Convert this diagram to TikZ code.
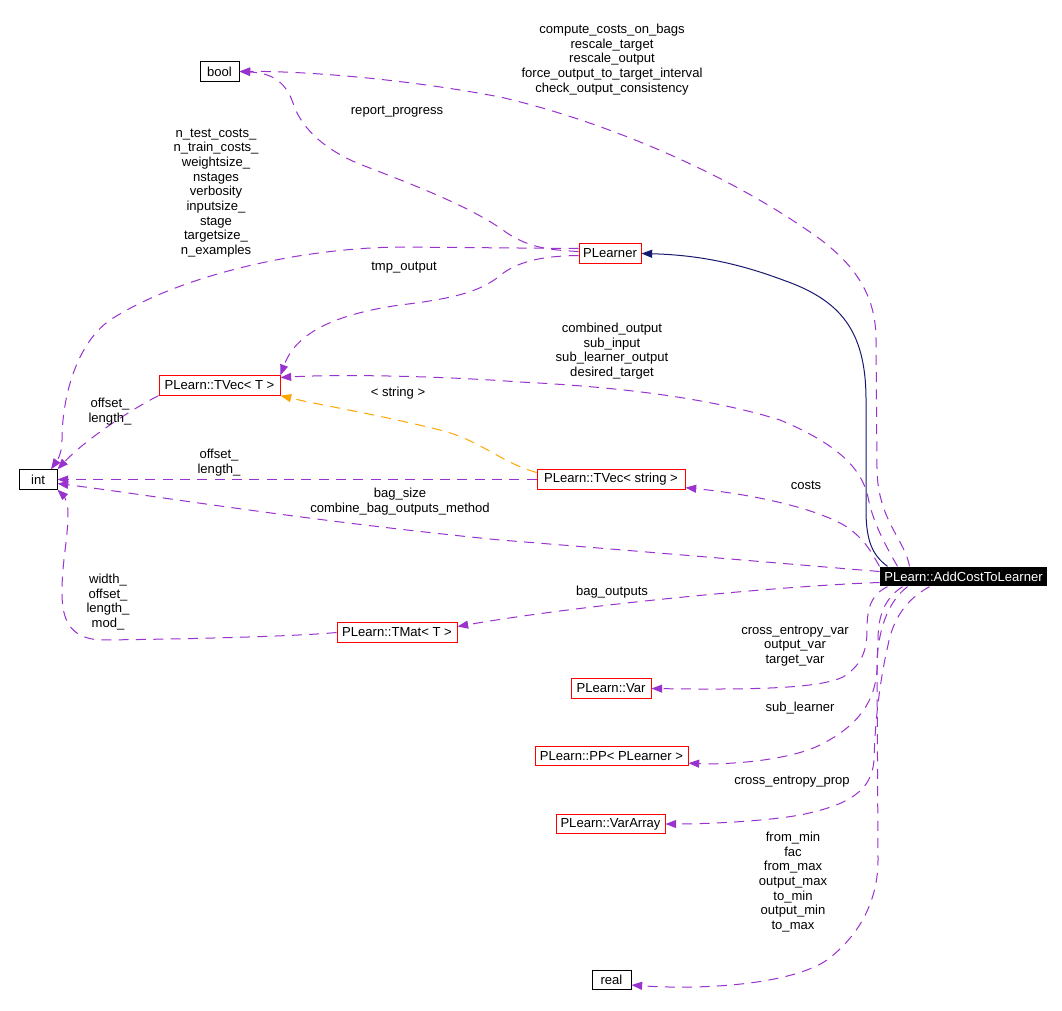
\documentclass[tikz,border=0pt]{standalone}
\usepackage{fontspec}
\setmainfont{Liberation Sans}
\usetikzlibrary{arrows.meta,calc}
\definecolor{edgepurple}{HTML}{9A32CD}
\definecolor{edgenavy}{HTML}{191970}
\definecolor{edgeorange}{HTML}{FFA500}
\begin{document}
\begin{tikzpicture}[x=0.75pt,y=-0.75pt,
  every node/.style={font=\fontsize{9.8}{11}\selectfont},
  classbox/.style={line width=0.75pt, inner sep=0pt, minimum height=14.5pt},
  redbox/.style={classbox, draw=red},
  blackbox/.style={classbox, draw=black},
  mainbox/.style={classbox, fill=black, text=white},
  lbl/.style={align=center, inner sep=0pt},
  edge/.style={draw=edgepurple, line width=0.75pt, dash pattern=on 7.5pt off 5.5pt, -{Triangle[length=8pt,width=6pt]}},
  inherit/.style={draw=edgenavy, line width=0.75pt, -{Triangle[length=8pt,width=6pt]}},
  tmpl/.style={draw=edgeorange, line width=0.75pt, dash pattern=on 7.5pt off 5.5pt, -{Triangle[length=8pt,width=6pt]}}
]
\path[fill=white] (0,0) rectangle (1062,1010);
\useasboundingbox (0,0) rectangle (1062,1010);

% nodes
\node[blackbox, minimum width=29.25pt] (bool) at (219.5,71.5) {bool};
\node[blackbox, minimum width=28.5pt] (int) at (38,479.5) {int};
\node[redbox, minimum width=46.5pt] (plearner) at (610,253.5) {PLearner};
\node[redbox, minimum width=90.75pt] (tvecT) at (219.5,385.5) {PLearn::TVec< T >};
\node[redbox, minimum width=111pt] (tvecS) at (611,479.5) {PLearn::TVec< string >};
\node[mainbox, minimum width=125.25pt] (add) at (963.5,576.5) {PLearn::AddCostToLearner};
\node[redbox, minimum width=90pt] (tmat) at (397,632.5) {PLearn::TMat< T >};
\node[redbox, minimum width=60pt] (var) at (611,688.5) {PLearn::Var};
\node[redbox, minimum width=114.75pt] (pp) at (611.5,756) {PLearn::PP< PLearner >};
\node[redbox, minimum width=81.75pt] (varr) at (610.5,824) {PLearn::VarArray};
\node[blackbox, minimum width=29.25pt] (real) at (611.5,980) {real};

% edges
\draw[edge] ($(add.north west)+(30,0)$) .. controls (905,540) and (878,520) .. (877,470)
  -- (876,340) .. controls (876,300) and (860,265) .. (807,230)
  .. controls (720,170) and (600,120) .. (500,97)
  .. controls (400,78) and (300,71) .. (bool.east);
\draw[inherit] ($(add.north west)+(8,0)$) .. controls (872,555) and (866,540) .. (866,510)
  -- (866,400) .. controls (866,330) and (840,300) .. (783,280)
  .. controls (740,264) and (700,255) .. (plearner.east);
\draw[edge] ($(add.north west)+(18,0)$) .. controls (885,545) and (872,520) .. (868,497)
  .. controls (862,470) and (840,445) .. (780,420)
  .. controls (700,395) and (600,386) .. (520,382)
  .. controls (440,376) and (340,374) .. ($(tvecT.east)+(0,-8)$);
\draw[edge] (add.north west) .. controls (870,550) and (865,540) .. (847,527)
  .. controls (820,510) and (760,495) .. ($(tvecS.south east)+(0,-2)$);
\draw[edge] ($(add.west)+(0,-5)$) .. controls (800,565) and (650,552) .. (500,540)
  .. controls (300,520) and (150,495) .. ($(int.east)+(0,4)$);
\draw[edge] (tvecS.west) -- (int.east);
\draw[edge] (tvecT.south west) .. controls (130,410) and (85,440) .. (int.north east);
\draw[edge] ($(plearner.west)+(0,-5)$) -- (400,247) .. controls (300,248) and (180,275) .. (110,320)
  .. controls (75,345) and (62,400) .. (62,440)
  .. controls (62,455) and (56,462) .. ($(int.north)+(13,0)$);
\draw[edge] (tmat.west) .. controls (300,636) and (200,639) .. (100,640)
  .. controls (70,638) and (62,620) .. (62,593)
  .. controls (62,560) and (68,540) .. (68,513)
  .. controls (68,500) and (62,494) .. (int.south east);
\draw[edge] ($(plearner.west)+(0,-2)$) .. controls (550,250) and (530,248) .. (507,233)
  .. controls (470,205) and (400,180) .. (357,163)
  .. controls (320,147) and (300,125) .. (293,103)
  .. controls (285,80) and (270,73) .. (bool.east);
\draw[edge] ($(plearner.west)+(0,2)$) .. controls (540,256) and (515,262) .. (497,278)
  .. controls (480,290) and (460,298) .. (400,305)
  .. controls (330,315) and (295,335) .. (tvecT.north east);
\draw[tmpl] ($(tvecS.west)+(0,-7)$) .. controls (500,462) and (480,440) .. (440,430)
  .. controls (380,415) and (320,405) .. (tvecT.south east);
\draw[edge] ($(add.west)+(0,6)$) .. controls (780,586) and (580,605) .. ($(tmat.east)+(0,-6)$);
\draw[edge] ($(add.south west)+(8,0)$) .. controls (870,595) and (867,610) .. (867,630)
  .. controls (867,650) and (862,665) .. (843,677)
  .. controls (820,688) and (760,690) .. (var.east);
\draw[edge] ($(add.south west)+(23,0)$) .. controls (885,598) and (878,615) .. (878,640)
  -- (877,670) .. controls (875,700) and (860,725) .. (820,745)
  .. controls (790,760) and (730,765) .. ($(pp.south east)+(0,-3)$);
\draw[edge] ($(add.south west)+(50,0)$) .. controls (905,600) and (893,620) .. (888,645)
  .. controls (880,680) and (875,720) .. (874,760)
  .. controls (872,790) and (850,805) .. (800,815)
  .. controls (760,822) and (700,824) .. (varr.east);
\draw[edge] ($(add.south west)+(28,0)$) .. controls (890,600) and (879,625) .. (877,660)
  -- (878,860) .. controls (878,900) and (860,935) .. (827,960)
  .. controls (790,985) and (700,990) .. ($(real.east)+(0,5)$);

% labels
\node[lbl] (l1) at (612,59.5) {compute\_costs\_on\_bags\\rescale\_target\\rescale\_output\\force\_output\_to\_target\_interval\\check\_output\_consistency};
\node[lbl] (l2) at (397,112) {report\_progress};
\node[lbl] (l3) at (216,193) {n\_test\_costs\_\\n\_train\_costs\_\\weightsize\_\\nstages\\verbosity\\inputsize\_\\stage\\targetsize\_\\n\_examples};
\node[lbl] (l4) at (404,268) {tmp\_output};
\node[lbl] (l5) at (612,351) {combined\_output\\sub\_input\\sub\_learner\_output\\desired\_target};
\node[lbl] (l6) at (110,411.5) {offset\_\\length\_};
\node[lbl] (l7) at (398,393) {< string >};
\node[lbl] (l8) at (219,462.5) {offset\_\\length\_};
\node[lbl] (l9) at (806,485) {costs};
\node[lbl] (l10) at (400,501.5) {bag\_size\\combine\_bag\_outputs\_method};
\node[lbl] (l11) at (612,592) {bag\_outputs};
\node[lbl] (l12) at (108,602) {width\_\\offset\_\\length\_\\mod\_};
\node[lbl] (l13) at (795,646) {cross\_entropy\_var\\output\_var\\target\_var};
\node[lbl] (l14) at (800,708) {sub\_learner};
\node[lbl] (l15) at (792,782) {cross\_entropy\_prop};
\node[lbl] (l16) at (793,882) {from\_min\\fac\\from\_max\\output\_max\\to\_min\\output\_min\\to\_max};
\end{tikzpicture}
\end{document}
